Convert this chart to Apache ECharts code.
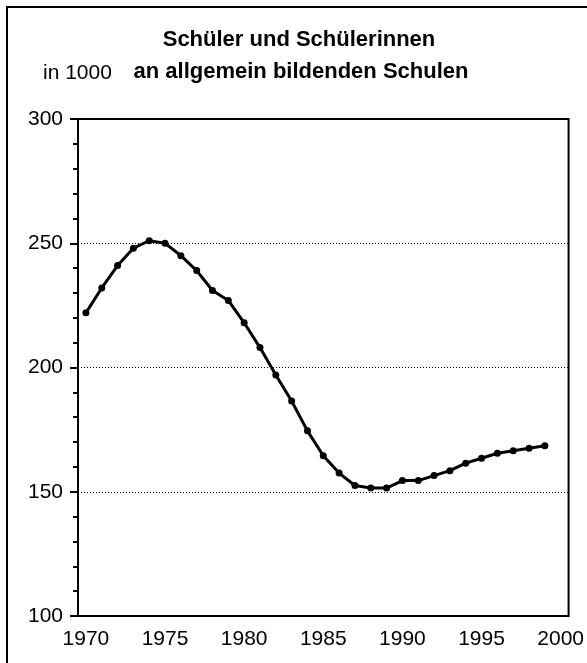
<!DOCTYPE html>
<html>
<head>
<meta charset="utf-8">
<script src="https://cdn.jsdelivr.net/npm/echarts@6/dist/echarts.min.js"></script>
<style>html,body{margin:0;padding:0;background:#fff;}#c{width:587px;height:663px;}</style>
</head>
<body>
<div id="c"></div>
<script>
var years = [];
for (var y = 1970; y <= 2000; y++) years.push(String(y));
var pupils = [222, 232, 241, 248, 251, 250, 245, 239, 231, 227, 218, 208, 197, 186.5, 174.5, 164.5, 157.5, 152.5, 151.5, 151.5, 154.5, 154.5, 156.5, 158.5, 161.5, 163.5, 165.5, 166.5, 167.5, 168.5];
var yTicks = [100, 150, 200, 250, 300];
var titleLine1 = 'Schüler und Schülerinnen';
var titleLine2 = 'an allgemein bildenden Schulen';
var unitLabel = 'in 1000';

var chart = echarts.init(document.getElementById('c'));
var fontAxis = '"Liberation Sans", Arial, sans-serif';
chart.setOption({
  animation: false,
  backgroundColor: '#fff',
  graphic: [
    { type: 'rect', shape: { x: 7, y: 7, width: 600, height: 680 }, style: { fill: 'none', stroke: '#000', lineWidth: 2 } },
    { type: 'text', x: 299, y: 29, style: { text: titleLine1, font: 'bold 22px ' + fontAxis, fill: '#000', textAlign: 'center' } },
    { type: 'text', x: 301, y: 61, style: { text: titleLine2, font: 'bold 22px ' + fontAxis, fill: '#000', textAlign: 'center' } },
    { type: 'text', x: 43, y: 63, style: { text: unitLabel, font: '21px ' + fontAxis, fill: '#000' } }
  ],
  grid: { left: 78, top: 119, right: 17, bottom: 47, show: true, borderColor: '#000', borderWidth: 2, containLabel: false },
  xAxis: {
    type: 'category',
    data: years,
    boundaryGap: true,
    axisLine: { lineStyle: { color: '#000', width: 2 } },
    axisTick: { alignWithLabel: true, interval: 0, length: 6, lineStyle: { color: '#000', width: 2 } },
    axisLabel: { interval: 4, color: '#000', fontSize: 21, fontFamily: fontAxis, margin: 13 },
    splitLine: { show: false }
  },
  yAxis: {
    type: 'value',
    min: yTicks[0], max: yTicks[yTicks.length - 1], interval: 50,
    axisLine: { show: true, lineStyle: { color: '#000', width: 2 } },
    axisTick: { show: true, length: 8, lineStyle: { color: '#000', width: 2 } },
    minorTick: { show: true, splitNumber: 5, length: 5, lineStyle: { color: '#000', width: 2 } },
    axisLabel: { color: '#000', fontSize: 21, fontFamily: fontAxis, margin: 15 },
    splitLine: { show: true, lineStyle: { color: '#000', width: 1, type: [1, 2] } }
  },
  series: [{
    type: 'line',
    data: pupils,
    symbol: 'circle',
    symbolSize: 7,
    itemStyle: { color: '#000' },
    lineStyle: { color: '#000', width: 3 }
  }]
});
</script>
</body>
</html>
